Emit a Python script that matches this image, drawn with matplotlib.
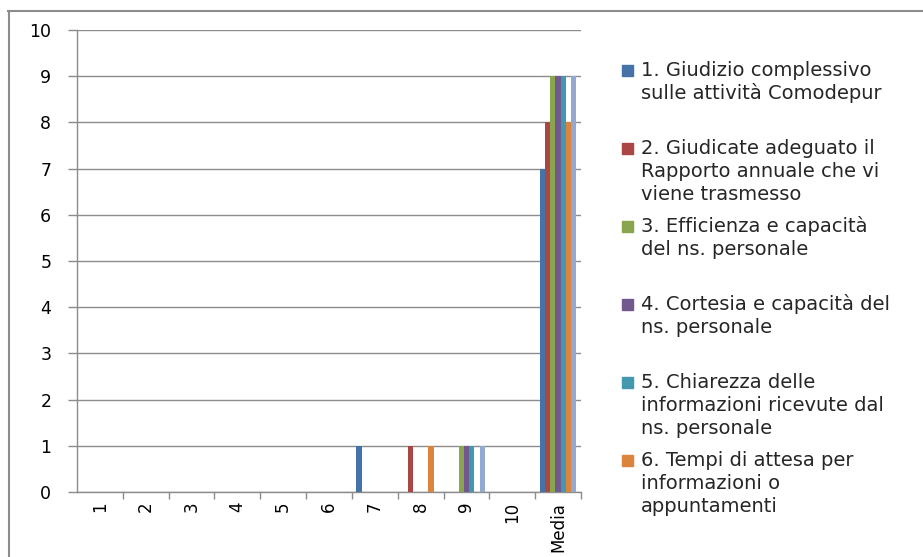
import numpy as np
import matplotlib.pyplot as plt
from matplotlib.lines import Line2D
from matplotlib.patches import Rectangle

categories = ['1', '2', '3', '4', '5', '6', '7', '8', '9', '10', 'Media']

series_labels = [
    "1. Giudizio complessivo\nsulle attività Comodepur",
    "2. Giudicate adeguato il\nRapporto annuale che vi\nviene trasmesso",
    "3. Efficienza e capacità\ndel ns. personale",
    "4. Cortesia e capacità del\nns. personale",
    "5. Chiarezza delle\ninformazioni ricevute dal\nns. personale",
    "6. Tempi di attesa per\ninformazioni o\nappuntamenti",
    "7.",
]

s1 = [0, 0, 0, 0, 0, 0, 1, 0, 0, 0, 7]
s2 = [0, 0, 0, 0, 0, 0, 0, 1, 0, 0, 8]
s3 = [0, 0, 0, 0, 0, 0, 0, 0, 1, 0, 9]
s4 = [0, 0, 0, 0, 0, 0, 0, 0, 1, 0, 9]
s5 = [0, 0, 0, 0, 0, 0, 0, 0, 1, 0, 9]
s6 = [0, 0, 0, 0, 0, 0, 0, 1, 0, 0, 8]
s7 = [0, 0, 0, 0, 0, 0, 0, 0, 1, 0, 9]
series = [s1, s2, s3, s4, s5, s6, s7]

colors = ['#4572A7', '#AA4643', '#89A54E', '#71588F', '#4198AF', '#DB843D', '#93A9CF']

fig = plt.figure(figsize=(9.23, 5.57), dpi=100)
W, H = 923, 557
ax = fig.add_axes([77 / W, (H - 492) / H, (581 - 77) / W, (492 - 30) / H])

x = np.arange(len(categories))
n = len(series)
bw = 0.8 / n
for i, (vals, c) in enumerate(zip(series, colors)):
    ax.bar(x - 0.4 + bw * (i + 0.5), vals, width=bw, color=c, linewidth=0, zorder=3)

ax.set_xlim(-0.5, len(categories) - 0.5)
ax.set_ylim(0, 10)
ax.set_yticks(range(0, 11))
ax.yaxis.grid(True, color='#8c8c8c', linewidth=1)
ax.set_axisbelow(True)
ax.tick_params(axis='y', length=6.5, width=1, color='#8c8c8c', pad=12, labelsize=12.5)

ax.set_xticks(x)
ax.set_xticklabels(categories, rotation=90, fontsize=12)
ax.tick_params(axis='x', which='major', length=0, pad=7)
ax.set_xticks(np.arange(len(categories)) + 0.5, minor=True)
ax.tick_params(axis='x', which='minor', length=5, width=1, color='#8c8c8c')

for s in ['top', 'right']:
    ax.spines[s].set_visible(False)
for s in ['left', 'bottom']:
    ax.spines[s].set_color('#8c8c8c')
    ax.spines[s].set_linewidth(1)

# outer chart frame (only top and left edges visible)
fig.add_artist(Line2D([8 / W, 922 / W], [(H - 10.5) / H, (H - 10.5) / H], color='#8c8c8c', lw=1.5))
fig.add_artist(Line2D([8.5 / W, 8.5 / W], [0, (H - 10.5) / H], color='#8c8c8c', lw=1.5))

# legend, one text per line so the first line sits next to the square
for i in range(6):
    ytop = 70 + i * 78
    fig.add_artist(Rectangle((622 / W, (H - ytop - 6) / H), 11 / W, 11 / H,
                             color=colors[i], transform=fig.transFigure))
    for k, line in enumerate(series_labels[i].split('\n')):
        fig.text(641 / W, (H - ytop - 6 - k * 23) / H, line, fontsize=14,
                 family='DejaVu Sans', color='#262626', va='baseline', ha='left')

fig.savefig('out.png', dpi=100)
